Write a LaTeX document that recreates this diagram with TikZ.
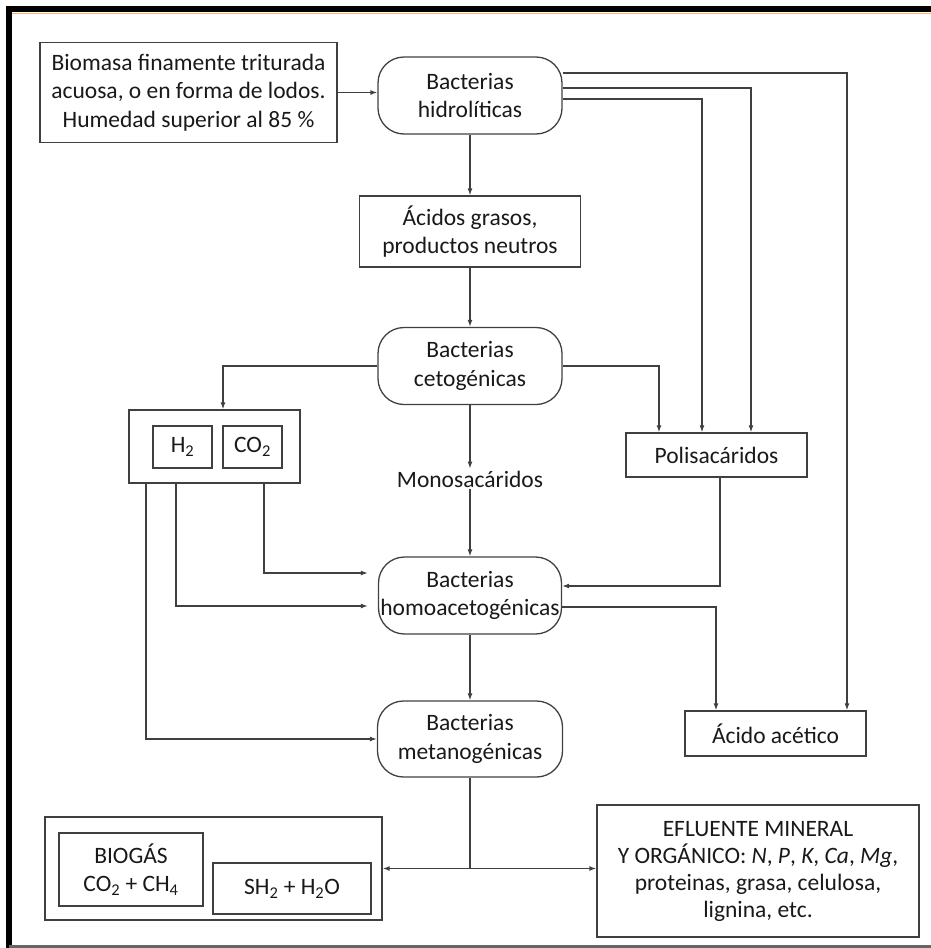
\documentclass[tikz,border=0pt]{standalone}
\usepackage{fontspec}
\setmainfont{Carlito}
\usepackage{tikz}
\usetikzlibrary{positioning, arrows.meta}

\begin{document}
\begin{tikzpicture}[x=1pt, y=-1pt, on grid,
    >={Latex[length=7pt,width=5pt]},
    every node/.style={font=\fontsize{23.5}{28.5}\selectfont, align=center, text=black!90},
    box/.style={draw=black!75, line width=1.3pt, inner sep=0pt},
    bact/.style={box, rounded corners=26pt, minimum width=184pt, minimum height=77pt},
    flow/.style={draw=black!75, line width=1.3pt}]
    \useasboundingbox (0,0) rectangle (931,948);
    % marco
    \draw[line width=6pt] (6,9) -- (931,9);
    \draw[orange!60, line width=1pt] (12,13) -- (931,13);
    \draw[line width=6pt] (9,6) -- (9,948);
    \draw[black!60, line width=2.5pt] (9,946.5) -- (931,946.5);

    \node[box, minimum width=297pt, minimum height=100pt] (bio) at (188.5,92.5)
        {Biomasa finamente triturada\\acuosa, o en forma de lodos.\\Humedad superior al 85 \%};
    \node[bact] (hid) at (470,95.5) {Bacterias\\hidrolíticas};
    \node[box, minimum width=221pt, minimum height=71pt] (acid) [below=136pt of hid]
        {Ácidos grasos,\\productos neutros};
    \node[bact] (ceto) [below=134.5pt of acid] {Bacterias\\cetogénicas};
    \node[inner sep=2pt] (mono) [below=113pt of ceto] {Monosacáridos};
    \node[bact, minimum width=183pt] (homo) [below=116.5pt of mono] {Bacterias\\homoacetogénicas};
    \node[bact, minimum width=185pt, minimum height=76pt] (meta) [below=143.5pt of homo]
        {Bacterias\\metanogénicas};

    \node[box, minimum width=171pt, minimum height=73pt] (hc) at (214.5,446.5) {};
    \node[box, minimum width=59pt, minimum height=42pt] (h2) at (182.5,447) {H\textsubscript{2}};
    \node[box, minimum width=59pt, minimum height=42pt] (co2) at (252.5,447) {CO\textsubscript{2}};
    \node[box, minimum width=181pt, minimum height=44pt] (poli) at (716.5,455) {Polisacáridos};
    \node[box, minimum width=181pt, minimum height=45pt] (ace) at (775.5,733.5) {Ácido acético};

    \node[box, minimum width=337pt, minimum height=103pt] (gas) at (213.5,868.5) {};
    \node[box, minimum width=144pt, minimum height=73pt] (bgas) at (131,869.5)
        {BIOGÁS\\CO\textsubscript{2} + CH\textsubscript{4}};
    \node[box, minimum width=158pt, minimum height=51pt] (sh) at (292,888.5)
        {SH\textsubscript{2} + H\textsubscript{2}O};
    \node[box, minimum width=322pt, minimum height=132pt,
          font=\fontsize{23.5}{27}\selectfont] (eflu) at (758,871)
        {EFLUENTE MINERAL\\Y ORGÁNICO: \textit{N}, \textit{P}, \textit{K}, \textit{Ca}, \textit{Mg},\\proteinas, grasa, celulosa,\\lignina, etc.};

    % conexiones
    \draw[flow, ->] (bio.east) -- (bio.east -| hid.west);
    \draw[flow, ->] ([yshift=22.5pt]hid.east) -| ([xshift=71.5pt]ace.north);
    \draw[flow, ->] ([yshift=7.5pt]hid.east) -| ([xshift=34.5pt]poli.north);
    \draw[flow, ->] ([yshift=-3.5pt]hid.east) -| ([xshift=-14.5pt]poli.north);
    \draw[flow, ->] (hid) -- (acid);
    \draw[flow, ->] (acid) -- (ceto);
    \draw[flow, ->] (ceto) -- (mono);
    \draw[flow, ->] (mono) -- (homo);
    \draw[flow, ->] (homo) -- (meta);
    \draw[flow, ->] (ceto.west) -| ([xshift=8.5pt]hc.north);
    \draw[flow, ->] (ceto.east) -| ([xshift=-57.5pt]poli.north);
    \draw[flow, ->] ([xshift=-68.5pt]hc.south) |- (meta.west);
    \draw[flow, ->] ([xshift=-38.5pt]hc.south) |- ([xshift=-10pt, yshift=-10.5pt]homo.west);
    \draw[flow, ->] ([xshift=49.5pt]hc.south) |- ([xshift=-10pt, yshift=22.5pt]homo.west);
    \draw[flow, ->] ([xshift=3.5pt]poli.south) |- ([yshift=9.5pt]homo.east);
    \draw[flow, ->] ([yshift=-11.5pt]homo.east) -| ([xshift=-59.5pt]ace.north);
    \draw[flow] (meta.south) -- (meta.south |- gas.east) coordinate (split);
    \draw[flow, ->] (split) -- (gas.east);
    \draw[flow, ->] (split) -- (split -| eflu.west);
\end{tikzpicture}
\end{document}
